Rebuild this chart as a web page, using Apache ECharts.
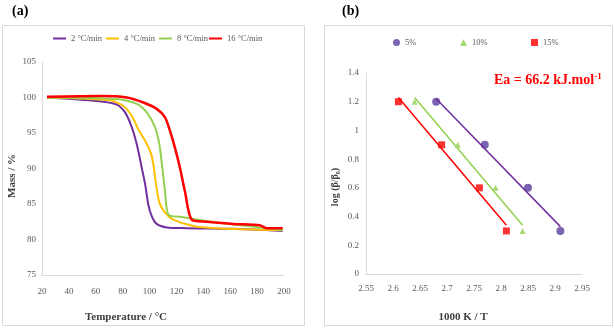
<!DOCTYPE html>
<html>
<head>
<meta charset="utf-8">
<script src="https://cdn.jsdelivr.net/npm/echarts@6/dist/echarts.min.js"></script>
<style>
  html, body { margin: 0; padding: 0; background: #fff; }
  #chart { width: 614px; height: 329px; }
</style>
</head>
<body>
<div id="chart"></div>
<script>
// (a) TGA 曲线：温度 / 质量
const rate2 = [[23.7, 100], [60.8, 99.5], [75.6, 99.0], [81.8, 97.9], [86.8, 95.8], [90.5, 93.4], [94.2, 90.1], [96.7, 87.8], [99.1, 84.9], [101.6, 83.3], [105.3, 82.2], [112.7, 81.7], [127.6, 81.6], [162, 81.5], [199, 81.2]];
const rate4 = [[23.7, 100], [70.7, 99.6], [80.6, 98.8], [86.8, 97.4], [91.7, 95.5], [96.7, 93.9], [100.9, 92.2], [102.8, 90.6], [104.8, 87.8], [107.3, 85.2], [111.5, 83.8], [117.7, 82.8], [132.5, 81.9], [149.8, 81.6], [199, 81.3]];
const rate8 = [[23.7, 100], [75.6, 99.8], [90.5, 99.1], [97.9, 97.9], [104.1, 95.8], [107.3, 93.4], [109.5, 90.1], [111.5, 86.8], [114, 83.5], [122.6, 83.2], [142.4, 82.6], [162.2, 82.1], [186.9, 81.6], [199, 81.3]];
const rate16 = [[23.7, 100.1], [63.3, 100.2], [83.1, 100], [95.4, 99.3], [105.3, 98.4], [111.5, 97.2], [115.2, 95.3], [118.9, 92.9], [122.6, 90.1], [126.3, 86.8], [131.3, 82.8], [142.4, 82.5], [162.2, 82.2], [181.9, 82.0], [187, 81.6], [199, 81.6]];
const rateNames = ['2 °C/min', '4 °C/min', '8 °C/min', '16 °C/min'];

// (b) 转化率点 + 趋势线端点
const conv5 = [[2.68, 1.2], [2.77, 0.9], [2.85, 0.6], [2.91, 0.3]];
const conv10 = [[2.64, 1.2], [2.72, 0.9], [2.79, 0.6], [2.84, 0.3]];
const conv15 = [[2.61, 1.2], [2.69, 0.9], [2.76, 0.6], [2.81, 0.3]];
const trend5 = [[2.68, 1.22], [2.91, 0.33]];
const trend10 = [[2.64, 1.23], [2.84, 0.34]];
const trend15 = [[2.61, 1.23], [2.81, 0.34]];
const convNames = ['5%', '10%', '15%'];

const chart = echarts.init(document.getElementById('chart'));
const font = 'Liberation Serif';
const tickStyle = { color: '#595959', fontFamily: font, fontSize: 9 };
const axisLine = { show: true, lineStyle: { color: '#d9d9d9' } };
const legendText = { fontFamily: font, fontSize: 8.5, color: '#595959' };

const lineSeries = (name, data, color, width) => ({
  name, type: 'line', data, xAxisIndex: 0, yAxisIndex: 0,
  showSymbol: false, smooth: 0.25,
  lineStyle: { color, width }, itemStyle: { color },
});

// 每个图例单独定位
const lineLegendX = [53, 106, 159, 209];
const dotLegendX = [393, 460, 531];
const legends = [
  ...rateNames.map((n, i) => ({
    data: [n], left: lineLegendX[i], top: 34, itemWidth: 13, itemHeight: 2, itemGap: 2,
    icon: 'rect', textStyle: legendText, padding: 0,
  })),
  ...convNames.map((n, i) => ({
    data: [n], left: dotLegendX[i], top: 38, itemWidth: 7, itemHeight: 7,
    textStyle: legendText, padding: 0,
  })),
];

chart.setOption({
  animation: false,
  textStyle: { fontFamily: font },
  legend: legends,
  grid: [
    { left: 42, top: 62, width: 242, height: 213 },
    { left: 366, top: 73, width: 216, height: 201 },
  ],
  xAxis: [
    {
      gridIndex: 0, type: 'value', min: 20, max: 200, interval: 20,
      axisLine, axisTick: { show: false }, splitLine: { show: false },
      axisLabel: { ...tickStyle, margin: 12 },
    },
    {
      gridIndex: 1, type: 'value', min: 2.55, max: 2.95, interval: 0.05,
      axisLine, axisTick: { show: false }, splitLine: { show: false },
      axisLabel: { ...tickStyle, margin: 10, formatter: v => String(+v.toFixed(2)) },
    },
  ],
  yAxis: [
    {
      gridIndex: 0, type: 'value', min: 75, max: 105, interval: 5,
      axisLine, axisTick: { show: false }, splitLine: { show: false },
      axisLabel: { ...tickStyle, margin: 6 },
    },
    {
      gridIndex: 1, type: 'value', min: 0, max: 1.4, interval: 0.2,
      axisLine, axisTick: { show: false }, splitLine: { show: false },
      axisLabel: { ...tickStyle, margin: 7, formatter: v => String(+v.toFixed(1)) },
    },
  ],
  series: [
    lineSeries(rateNames[0], rate2, '#7030a0', 2),
    lineSeries(rateNames[1], rate4, '#ffc000', 2),
    lineSeries(rateNames[2], rate8, '#92d050', 2),
    lineSeries(rateNames[3], rate16, '#ff0000', 2.5),
    {
      name: convNames[0], type: 'scatter', data: conv5, xAxisIndex: 1, yAxisIndex: 1,
      symbol: 'circle', symbolSize: 8, itemStyle: { color: '#5a3c9e' },
    },
    {
      name: convNames[1], type: 'scatter', data: conv10, xAxisIndex: 1, yAxisIndex: 1,
      symbol: 'triangle', symbolSize: 6, itemStyle: { color: '#92d050' },
    },
    {
      name: convNames[2], type: 'scatter', data: conv15, xAxisIndex: 1, yAxisIndex: 1,
      symbol: 'rect', symbolSize: 7, itemStyle: { color: '#ff0000' },
    },
    { type: 'line', data: trend5, xAxisIndex: 1, yAxisIndex: 1, showSymbol: false, lineStyle: { color: '#7030a0', width: 1.5 } },
    { type: 'line', data: trend10, xAxisIndex: 1, yAxisIndex: 1, showSymbol: false, lineStyle: { color: '#92d050', width: 1.5 } },
    { type: 'line', data: trend15, xAxisIndex: 1, yAxisIndex: 1, showSymbol: false, lineStyle: { color: '#ff0000', width: 1.5 } },
  ],
  graphic: [
    { type: 'rect', shape: { x: 2.5, y: 25.5, width: 302, height: 300 }, style: { fill: 'none', stroke: '#d9d9d9' } },
    { type: 'rect', shape: { x: 324.5, y: 25.5, width: 288, height: 300 }, style: { fill: 'none', stroke: '#d9d9d9' } },
    { type: 'text', left: 12, top: 4, style: { text: '(a)', font: `bold 14px "${font}"`, fill: '#000' } },
    { type: 'text', left: 342, top: 4, style: { text: '(b)', font: `bold 14px "${font}"`, fill: '#000' } },
    {
      type: 'text', x: 12, y: 176, rotation: Math.PI / 2,
      style: { text: 'Mass / %', font: `bold 11px "${font}"`, fill: '#404040', align: 'center', verticalAlign: 'middle' },
    },
    {
      type: 'text', x: 126, y: 317,
      style: { text: 'Temperature / °C', font: `bold 11px "${font}"`, fill: '#404040', align: 'center', verticalAlign: 'middle' },
    },
    {
      type: 'text', x: 335, y: 187, rotation: Math.PI / 2,
      style: { text: 'log (β/β₀)', font: `bold 10px "${font}"`, fill: '#404040', align: 'center', verticalAlign: 'middle' },
    },
    {
      type: 'text', x: 463, y: 317,
      style: { text: '1000 K / T', font: `bold 11px "${font}"`, fill: '#404040', align: 'center', verticalAlign: 'middle' },
    },
    {
      type: 'text', left: 494, top: 72,
      style: {
        text: '{a|Ea = 66.2 kJ.mol}{s|-1}',
        rich: {
          a: { font: `bold 14px "${font}"`, fill: '#ff0000', color: '#ff0000' },
          s: { font: `bold 9px "${font}"`, fill: '#ff0000', color: '#ff0000', verticalAlign: 'top', padding: [0, 0, 7, 0] },
        },
      },
    },
  ],
});

window.addEventListener('resize', () => chart.resize());
</script>
</body>
</html>
